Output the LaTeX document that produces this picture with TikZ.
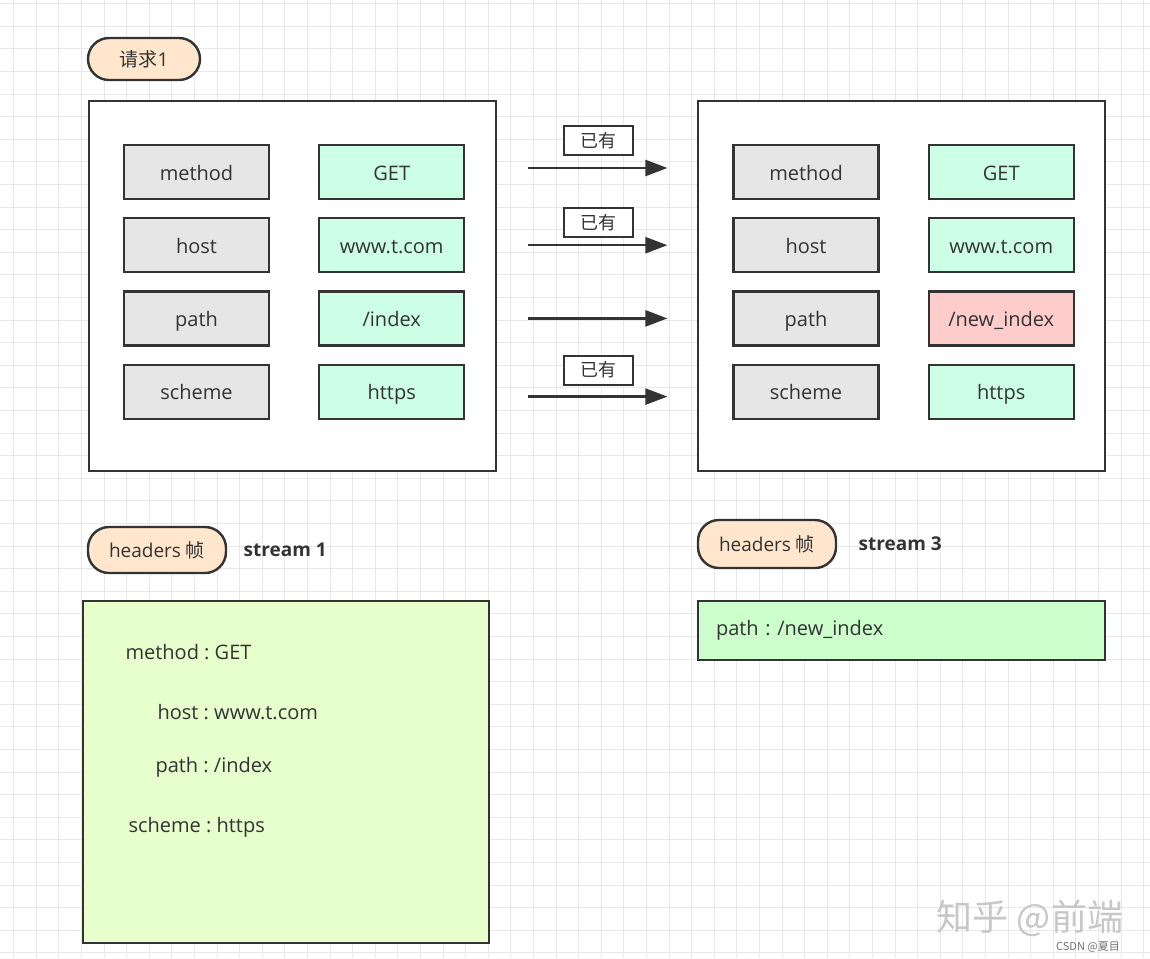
\documentclass[tikz,border=0pt]{standalone}
\usepackage{fontspec}
\setmainfont{Open Sans}
\newfontfamily\cjk{Noto Sans CJK SC}
\usetikzlibrary{positioning,arrows.meta}
\frenchspacing
\definecolor{inkgray}{RGB}{51,51,51}
\definecolor{keygray}{RGB}{230,230,230}
\definecolor{valgreen}{RGB}{204,255,230}
\definecolor{newpink}{RGB}{255,204,204}
\definecolor{pillpeach}{RGB}{255,230,204}
\definecolor{framegreen}{RGB}{230,255,204}
\definecolor{diffgreen}{RGB}{204,255,204}
\definecolor{gridgray}{RGB}{232,232,232}
\tikzset{field box/.style={draw=inkgray, line width=2.2pt, minimum width=145pt, minimum height=54pt, text height=18pt, text depth=2pt, text=inkgray, font=\fontsize{20}{24}\selectfont}}
\tikzset{key field/.style={field box, fill=keygray}}
\tikzset{value field/.style={field box, fill=valgreen}}
\tikzset{request frame/.style={draw=inkgray, line width=2.4pt, fill=white, minimum width=407pt, minimum height=370pt}}
\tikzset{pill/.style={draw=inkgray, line width=2.4pt, fill=pillpeach, rounded corners=21pt, text=inkgray, font=\fontsize{19}{22}\selectfont}}
\tikzset{stream label/.style={text=inkgray, font=\bfseries\fontsize{19}{22}\selectfont}}
\tikzset{flow/.style={-{Triangle[length=22pt,width=16pt]}, draw=inkgray, line width=2.4pt}}
\tikzset{tag/.style={draw=inkgray, line width=2pt, fill=white, minimum width=69pt, minimum height=29pt, text=inkgray, font=\cjk\fontsize{18}{20}\selectfont}}
\tikzset{frame text/.style={anchor=west, text=inkgray, font=\fontsize{20}{24}\selectfont}}

\begin{document}
\begin{tikzpicture}[x=1pt, y=-1pt, node distance=17pt]
\useasboundingbox[fill=white] (0,0) rectangle (1150,958);
\foreach \gx in {0,...,50} \draw[gridgray, line width=0.8pt] (13.5+22.6*\gx,0) -- (13.5+22.6*\gx,958);
\foreach \gy in {0,...,42} \draw[gridgray, line width=0.8pt] (0,3.5+22.6*\gy) -- (1150,3.5+22.6*\gy);

\node[pill, minimum width=112pt, minimum height=42pt] (req) at (144,59) {{\cjk 请求}1};

\node[request frame] (frame1) at (292.5,286) {};
\node[key field] (meth1) at (196.5,172) {method};
\node[key field, below=of meth1] (host1) {host};
\node[key field, below=of host1] (path1) {path};
\node[key field, below=of path1] (sch1) {scheme};
\node[value field, right=48pt of meth1] (get1) {GET};
\node[value field, right=48pt of host1] (www1) {www.t.com};
\node[value field, right=48pt of path1] (idx1) {/index};
\node[value field, right=48pt of sch1] (https1) {https};

\node[request frame] (frame3) at (901.5,286) {};
\node[key field] (meth3) at (806,172) {method};
\node[key field, below=of meth3] (host3) {host};
\node[key field, below=of host3] (path3) {path};
\node[key field, below=of path3] (sch3) {scheme};
\node[value field, right=48pt of meth3] (get3) {GET};
\node[value field, right=48pt of host3] (www3) {www.t.com};
\node[value field, right=48pt of path3, fill=newpink] (idx3) {/new\_index};
\node[value field, right=48pt of sch3] (https3) {https};

\draw[flow, shorten <=63pt, shorten >=65pt] ([yshift=4pt]get1.east) -- node[tag, above=12pt] {已有} ([yshift=4pt]meth3.west);
\draw[flow, shorten <=63pt, shorten >=65pt] (www1) -- node[tag, above=7pt] {已有} (host3);
\draw[flow, shorten <=63pt, shorten >=65pt] (idx1) -- (path3);
\draw[flow, shorten <=63pt, shorten >=65pt] ([yshift=-5pt]https1.east) -- node[tag, above=11pt] {已有} ([yshift=-5pt]sch3.west);

\node[pill, minimum width=138pt, minimum height=46pt] (hdr1) at (157,550) {headers {\cjk 帧}};
\node[stream label, right=13pt of hdr1] (st1) {stream 1};
\node[pill, minimum width=138pt, minimum height=48pt] (hdr3) at (767,544) {headers {\cjk 帧}};
\node[stream label, right=18pt of hdr3] (st3) {stream 3};

\node[draw=inkgray, line width=2.4pt, fill=framegreen, minimum width=406pt, minimum height=342pt] (frame2) at (286,772) {};
\node[frame text] (t1) at (122,652) {method : GET};
\node[frame text] (t2) at (154,712) {host : www.t.com};
\node[frame text] (t3) at (152,767) {path : /index};
\node[frame text] (t4) at (125,827) {scheme : https};

\node[draw=inkgray, line width=2.4pt, fill=diffgreen, text width=371pt, inner xsep=18pt, minimum height=59pt, align=left, text=inkgray, font=\fontsize{20}{24}\selectfont] (frame4) at (901.5,630.5) {path : /new\_index};

\node[text=black!22, font=\cjk\fontsize{36}{40}\selectfont] (mark) at (1030,918) {知乎 @前端};
\node[text=black!55, font=\cjk\fontsize{11}{13}\selectfont] (csdn) at (1088,947) {CSDN @夏目};
\end{tikzpicture}
\end{document}
